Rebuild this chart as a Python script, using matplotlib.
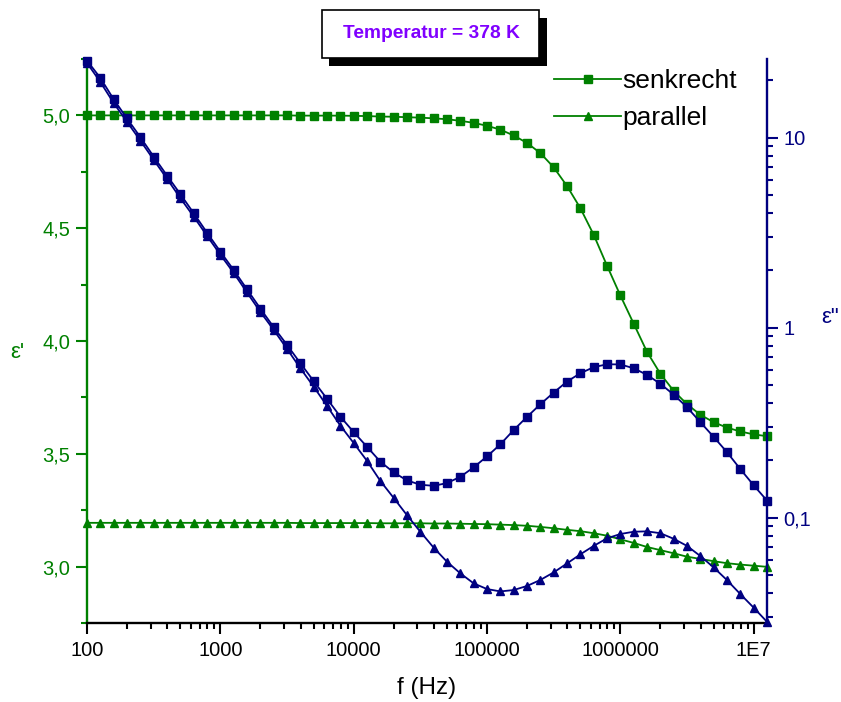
import numpy as np
import matplotlib.pyplot as plt
from matplotlib.ticker import FixedLocator, LogLocator, FuncFormatter, NullFormatter
from matplotlib.patches import Rectangle

plt.rcParams['font.family'] = ['Liberation Sans', 'DejaVu Sans']

GREEN = '#008000'
NAVY = '#000080'

# frequency sweep: 10 points per decade, 100 Hz .. 12.6 MHz
freq = np.logspace(2, 7.1, 52)

# eps' (left axis)
eps1_senk = [5.000, 5.000, 5.000, 5.000, 5.000, 5.000, 5.000, 5.000, 5.000, 5.000,
             5.000, 5.000, 5.000, 5.000, 5.000, 5.000, 4.999, 4.999, 4.999, 4.999,
             4.998, 4.997, 4.995, 4.994, 4.992, 4.990, 4.987, 4.983, 4.976, 4.967,
             4.954, 4.937, 4.911, 4.878, 4.833, 4.770, 4.687, 4.589, 4.471, 4.334,
             4.202, 4.077, 3.952, 3.855, 3.779, 3.720, 3.673, 3.640, 3.616, 3.599,
             3.586, 3.578]
eps1_par = [3.194, 3.194, 3.194, 3.194, 3.194, 3.194, 3.194, 3.194, 3.194, 3.194,
            3.194, 3.194, 3.194, 3.194, 3.194, 3.194, 3.193, 3.193, 3.193, 3.193,
            3.193, 3.193, 3.192, 3.192, 3.192, 3.192, 3.191, 3.191, 3.190, 3.189,
            3.188, 3.186, 3.184, 3.181, 3.176, 3.170, 3.163, 3.157, 3.148, 3.137,
            3.121, 3.105, 3.087, 3.073, 3.059, 3.044, 3.034, 3.024, 3.015, 3.009,
            3.004, 2.999]

# eps'' (right axis, log)
eps2_senk = [25.4, 20.6, 15.9, 12.6, 10.05, 7.94, 6.31, 5.04, 4.00, 3.16,
             2.51, 2.01, 1.59, 1.26, 1.005, 0.811, 0.650, 0.523, 0.422, 0.340,
             0.282, 0.236, 0.197, 0.173, 0.157, 0.149, 0.147, 0.152, 0.164, 0.184,
             0.210, 0.243, 0.289, 0.339, 0.395, 0.455, 0.520, 0.575, 0.619, 0.641,
             0.640, 0.611, 0.564, 0.506, 0.444, 0.381, 0.318, 0.266, 0.221, 0.180,
             0.148, 0.123]
eps2_par = [24.7, 19.6, 15.2, 12.1, 9.64, 7.64, 6.07, 4.80, 3.84, 3.04,
            2.42, 1.94, 1.53, 1.21, 0.973, 0.773, 0.611, 0.489, 0.387, 0.305,
            0.247, 0.199, 0.156, 0.127, 0.103, 0.0843, 0.0695, 0.0586, 0.0509, 0.0451,
            0.0421, 0.0409, 0.0416, 0.0437, 0.0470, 0.0515, 0.0574, 0.0641, 0.0710, 0.0778,
            0.0820, 0.0843, 0.0847, 0.0828, 0.0774, 0.0710, 0.0628, 0.0547, 0.0469, 0.0396,
            0.0336, 0.0283]

xticks = [1e2, 1e3, 1e4, 1e5, 1e6, 1e7]
xticklabels = ['100', '1000', '10000', '100000', '1000000', '1E7']
y1ticks = [3.0, 3.5, 4.0, 4.5, 5.0]
y2ticks = [0.1, 1, 10]


def comma(v, pos=None):
    if v >= 1:
        return '%d' % round(v)
    return ('%g' % v).replace('.', ',')


fig = plt.figure(figsize=(8.41, 7.02), dpi=100)
ax1 = fig.add_axes([87/841, 1 - 623/702, 680/841, 564/702])
ax2 = ax1.twinx()

line_kw = dict(lw=1.3, ms=5.4, clip_on=False)
l1, = ax1.plot(freq, eps1_senk, 's-', color=GREEN, label='senkrecht', **line_kw)
l2, = ax1.plot(freq, eps1_par, '^-', color=GREEN, label='parallel', **line_kw)
ax2.plot(freq, eps2_senk, 's-', color=NAVY, **line_kw)
ax2.plot(freq, eps2_par, '^-', color=NAVY, **line_kw)

ax1.set_xscale('log')
ax1.set_xlim(100, 10**7.1)
ax1.set_ylim(2.75, 5.25)
ax2.set_yscale('log')
ax2.set_ylim(0.0279, 25.9)

for ax in (ax1, ax2):
    ax.spines['top'].set_visible(False)
    for s in ax.spines.values():
        s.set_linewidth(1.7)
ax1.spines['right'].set_visible(False)
ax2.spines['left'].set_visible(False)
ax2.spines['bottom'].set_visible(False)
ax1.spines['left'].set_color(GREEN)
ax2.spines['right'].set_color(NAVY)
ax1.spines['bottom'].set_color('black')

ax1.set_xticks(xticks)
ax1.set_xticklabels(xticklabels)
ax1.xaxis.set_minor_locator(LogLocator(base=10, subs=np.arange(2, 10)))
ax1.xaxis.set_minor_formatter(NullFormatter())

ax1.yaxis.set_major_locator(FixedLocator(y1ticks))
ax1.yaxis.set_minor_locator(FixedLocator(np.arange(2.75, 5.26, 0.25)))
ax1.yaxis.set_major_formatter(FuncFormatter(lambda v, p: ('%.1f' % v).replace('.', ',')))

ax2.yaxis.set_major_locator(FixedLocator(y2ticks))
ax2.yaxis.set_minor_locator(LogLocator(base=10, subs=np.arange(2, 10)))
ax2.yaxis.set_major_formatter(FuncFormatter(comma))
ax2.yaxis.set_minor_formatter(NullFormatter())

ax1.tick_params(axis='x', which='major', direction='out', length=8, width=1.5,
                color='black', labelcolor='black', labelsize=14.5, pad=5)
ax1.tick_params(axis='x', which='minor', direction='out', length=4, width=1.5, color='black')
ax1.tick_params(axis='y', which='major', direction='out', length=8, width=1.5,
                color=GREEN, labelcolor=GREEN, labelsize=14.5, pad=4)
ax1.tick_params(axis='y', which='minor', direction='out', length=4, width=1.5, color=GREEN)
ax2.tick_params(axis='y', which='major', direction='out', length=8, width=1.5,
                color=NAVY, labelcolor=NAVY, labelsize=14.5, pad=4)
ax2.tick_params(axis='y', which='minor', direction='out', length=4, width=1.5, color=NAVY)

ax1.set_xlabel('f (Hz)', fontsize=17.5, labelpad=12)
fig.text(17/841, 1 - 353/702, "\u03b5'", color=GREEN, fontsize=16, ha='center', va='center')
fig.text(830/841, 1 - 318/702, '\u03b5"', color=NAVY, fontsize=16, ha='center', va='center')

ax1.legend(handles=[l1, l2], loc='upper left', bbox_to_anchor=(554/841, 1 - 69/702),
           bbox_transform=fig.transFigure, frameon=False, fontsize=19,
           handlelength=2.55, handletextpad=0.05, borderpad=0, borderaxespad=0,
           labelspacing=0.5)

# temperature label box with drop shadow
fig.patches.append(Rectangle((329/841, 1 - 66/702), 218/841, 48/702,
                             transform=fig.transFigure, facecolor='black', edgecolor='none'))
fig.patches.append(Rectangle((322/841, 1 - 58/702), 217/841, 48/702,
                             transform=fig.transFigure, facecolor='white',
                             edgecolor='black', lw=1.2))
fig.text(431/841, 1 - 34/702, 'Temperatur = 378 K', color='#8000FF', fontsize=13.8,
         fontweight='bold', ha='center', va='center')

fig.savefig('out.png', dpi=100)
